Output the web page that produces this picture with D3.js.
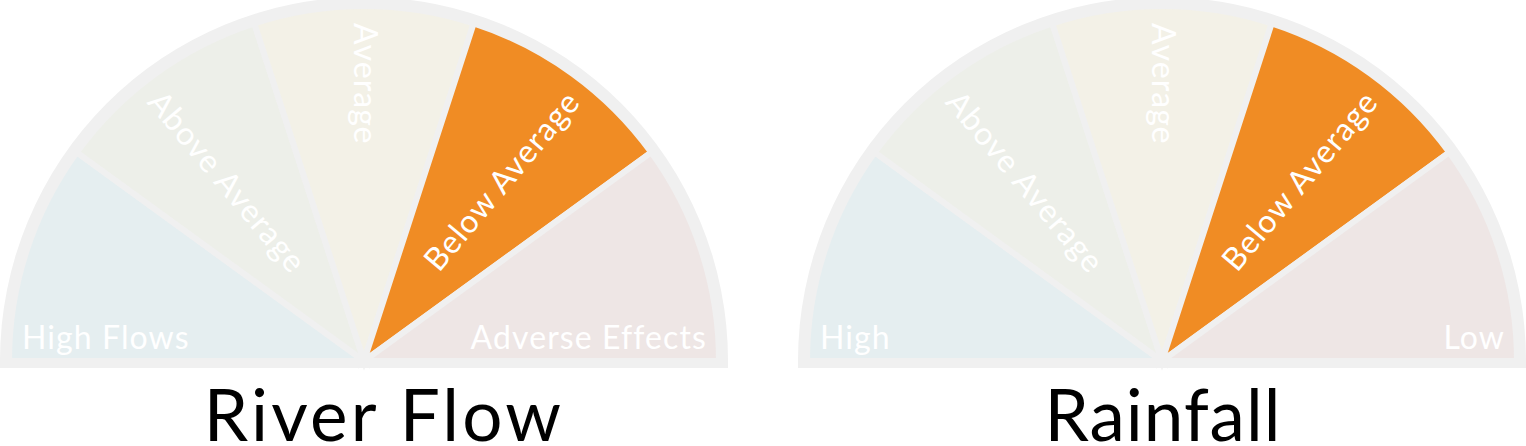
<!DOCTYPE html>
<html>
<head>
<meta charset="utf-8">
<script src="https://cdn.jsdelivr.net/npm/d3@7"></script>
<style>
  html, body { margin: 0; padding: 0; background: #fff; }
  svg { display: block; }
</style>
</head>
<body>
<svg id="chart" width="1526" height="446"></svg>
<script>
// ---- data ----
const gaugeTitles = ["River Flow", "Rainfall"];
const riverFlowLabels = ["High Flows", "Above Average", "Average", "Below Average", "Adverse Effects"];
const rainfallLabels = ["High", "Above Average", "Average", "Below Average", "Low"];
const currentLevel = [3, 3];           // index of the highlighted category
const categoryColors = ["#e5eef0", "#edefe9", "#f3f1e7", "#f1ece6", "#eee6e5"];
const activeColor = "#f08c24";
const gaugeLabels = [riverFlowLabels, rainfallLabels];

// ---- layout ----
const W = 1526, H = 446;
const cy = 361;
const outerR = 364;       // grey rim radius
const segR = 355;         // segment path radius (stroke eats 3px)
const gap = 6;
const labelFont = "Lato, 'Open Sans', sans-serif";

const svg = d3.select("#chart");

const xCenter = d3.scalePoint().domain(gaugeTitles).range([364, 1162]);
const angle = d3.scaleLinear().domain([0, 5]).range([-Math.PI / 2, Math.PI / 2]);

const rimArc = d3.arc().innerRadius(0).outerRadius(outerR)
  .startAngle(-Math.PI / 2).endAngle(Math.PI / 2);
const segArc = d3.arc().innerRadius(0).outerRadius(segR);

gaugeTitles.forEach((title, gi) => {
  const cx = xCenter(title);
  const labels = gaugeLabels[gi];
  const g = svg.append("g").attr("transform", `translate(${cx},${cy})`);

  // grey rim
  g.append("path").attr("d", rimArc()).attr("fill", "#f0f0f0");
  g.append("rect").attr("x", -outerR).attr("y", 0).attr("width", outerR * 2).attr("height", 7)
    .attr("fill", "#f0f0f0");

  // segments
  const segs = labels.map((lab, i) => ({
    label: lab, i,
    startAngle: angle(i), endAngle: angle(i + 1)
  }));
  g.selectAll("path.seg").data(segs).join("path")
    .attr("class", "seg")
    .attr("d", d => segArc(d))
    .attr("fill", d => d.i === currentLevel[gi] ? activeColor : categoryColors[d.i])
    .attr("stroke", "#f0f0f0")
    .attr("stroke-width", gap)
    .attr("stroke-linejoin", "miter");

  // labels
  const labelAttrs = sel => sel
    .attr("font-family", labelFont).attr("font-size", 32)
    .attr("letter-spacing", 1.1)
    .attr("fill", "#fff");

  segs.forEach(d => {
    if (d.i === 0) {
      g.append("text").text(d.label)
        .attr("x", -342).attr("y", -12)
        .attr("text-anchor", "start")
        .call(labelAttrs);
    } else if (d.i === labels.length - 1) {
      g.append("text").text(d.label)
        .attr("x", 343).attr("y", -12)
        .attr("text-anchor", "end")
        .call(labelAttrs);
    } else {
      const mid = (d.startAngle + d.endAngle) / 2;      // 0 = up
      const a = mid * 1.07;
      const r = 338;
      const px = r * Math.sin(a), py = -r * Math.cos(a);
      const midDeg = mid * 180 / Math.PI * 1.11;
      const left = mid <= 0;
      const rot = left ? 90 + midDeg : midDeg - 90;
      g.append("text").text(d.label)
        .attr("transform", `translate(${px},${py}) rotate(${rot})`)
        .attr("text-anchor", left ? "start" : "end")
        .attr("dy", "0.3em")
        .call(labelAttrs);
    }
  });

  // title
  svg.append("text").text(title)
    .attr("x", gi === 0 ? 384 : cx + 1).attr("y", 441)
    .attr("text-anchor", "middle")
    .attr("font-family", labelFont).attr("font-size", 71)
    .attr("letter-spacing", gi === 0 ? 3.2 : 1)
    .attr("fill", "#000");
});
</script>
</body>
</html>
